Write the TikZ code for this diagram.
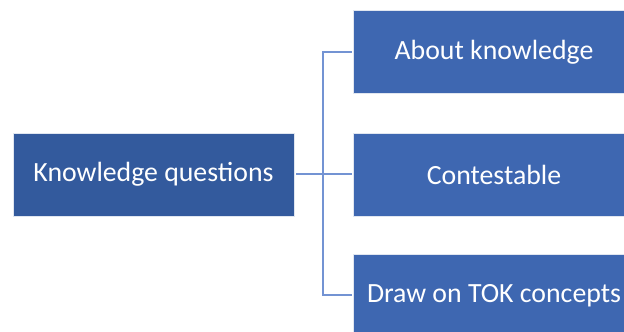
\documentclass[tikz,border=0pt]{standalone}
\usepackage{fontspec}
\setmainfont{Carlito}
\definecolor{leftblue}{HTML}{335A9D}
\definecolor{rightblue}{HTML}{3E67B1}
\definecolor{linkblue}{HTML}{7393D3}
\begin{document}
\begin{tikzpicture}[x=1pt,y=1pt,
  box/.style={draw=white!85!leftblue, line width=0.8pt, minimum width=281pt, minimum height=83pt, inner sep=0pt, text=white, font=\fontsize{27.8}{32}\selectfont},
  leftbox/.style={box, fill=leftblue},
  rightbox/.style={box, fill=rightblue},
  link/.style={draw=linkblue, line width=2pt}]
\useasboundingbox (0,0) rectangle (624,332);
\clip (0,0) rectangle (624,332);
\node[leftbox] (kq) at (153.5,157.5) {Knowledge questions};
\node[rightbox] (ak) at (494,280) {About knowledge};
\node[rightbox] (ct) at (494,157.5) {Contestable};
\node[rightbox] (tok) at (494,36.5) {Draw on TOK concepts};
\coordinate (j) at (323,157.5);
\draw[link] ([xshift=2pt]kq.east) -- (j);
\draw[link] (j) |- ([xshift=-1.5pt]ak.west);
\draw[link] (j) -- ([xshift=-1.5pt]ct.west);
\draw[link] (j) |- ([xshift=-1.5pt]tok.west);
\end{tikzpicture}
\end{document}
